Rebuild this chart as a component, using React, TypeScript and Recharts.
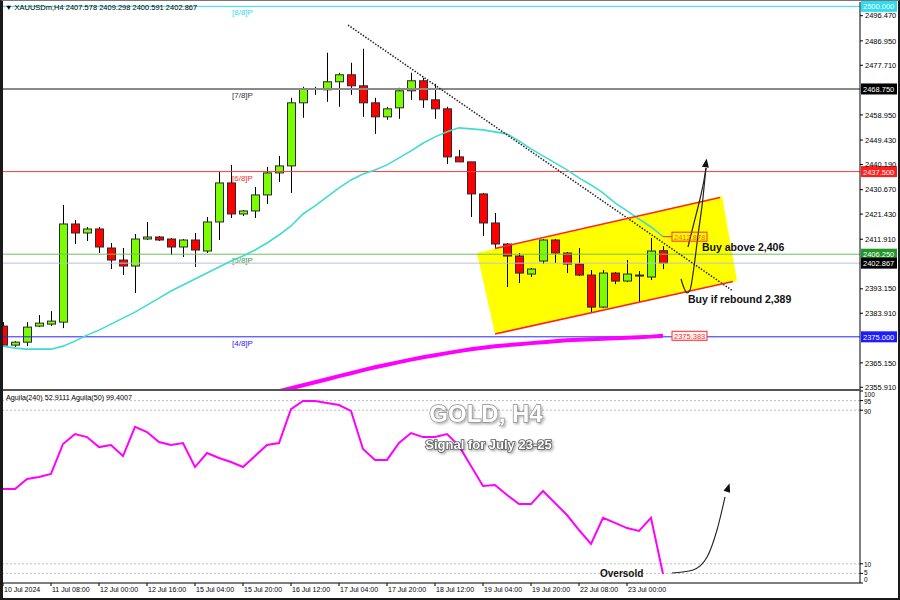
import React from "react";
import {
  Area,
  Bar,
  ComposedChart,
  Line,
  ReferenceDot,
  ReferenceLine,
  XAxis,
  YAxis,
} from "recharts";

// XAUUSDm H4, 10 Jul 2024 16:00 .. 23 Jul 2024 (56 bars)

const OPENS = [
  2379.05, 2371.85, 2372.98, 2379.05, 2379.8, 2380.56, 2417.68, 2414.27, 2415.79, 2408.59,
  2404.04, 2401.77, 2412.0, 2412.76, 2412.0, 2408.97, 2411.62, 2407.45, 2418.44, 2433.21,
  2421.47, 2422.61, 2428.67, 2437.0, 2439.65, 2463.51, 2468.7, 2468.44, 2471.47, 2474.12,
  2469.95, 2463.51, 2458.21, 2461.62, 2468.06, 2471.85, 2464.65, 2461.24, 2443.06, 2441.17,
  2429.05, 2418.06, 2410.11, 2405.56, 2398.74, 2403.67, 2411.62, 2406.7, 2402.53, 2398.36,
  2386.24, 2399.12, 2396.09, 2398.36, 2397.61, 2407.578,
];
const HIGHS = [
  2380.56, 2373.36, 2380.56, 2383.21, 2384.73, 2424.88, 2419.2, 2416.55, 2416.55, 2410.48,
  2408.59, 2413.89, 2418.44, 2413.14, 2412.38, 2412.0, 2414.27, 2420.33, 2437.38, 2440.03,
  2422.98, 2431.7, 2439.27, 2443.44, 2465.41, 2469.58, 2469.58, 2482.45, 2474.88, 2478.67,
  2483.97, 2465.41, 2462.0, 2469.2, 2474.88, 2472.98, 2470.71, 2462.0, 2445.71, 2441.17,
  2429.42, 2421.85, 2410.48, 2406.7, 2401.01, 2412.0, 2412.0, 2407.08, 2408.59, 2400.26,
  2400.26, 2399.5, 2404.04, 2399.88, 2412.38, 2409.298,
];
const LOWS = [
  2371.47, 2371.09, 2371.47, 2378.67, 2379.05, 2378.29, 2410.11, 2411.24, 2406.7, 2400.64,
  2398.36, 2391.55, 2411.62, 2411.24, 2405.94, 2405.18, 2401.39, 2406.7, 2411.62, 2419.95,
  2420.71, 2419.95, 2425.26, 2433.59, 2429.42, 2457.83, 2466.55, 2463.89, 2462.0, 2466.55,
  2458.21, 2451.77, 2457.08, 2457.45, 2464.65, 2461.62, 2457.45, 2440.41, 2441.17, 2420.33,
  2413.14, 2408.59, 2393.82, 2395.33, 2397.61, 2402.53, 2402.91, 2399.12, 2397.98, 2384.35,
  2385.86, 2394.95, 2395.71, 2388.14, 2396.47, 2400.591,
];
const CLOSES = [
  2371.85, 2372.98, 2378.67, 2380.18, 2380.94, 2417.68, 2414.27, 2415.79, 2408.97, 2404.04,
  2401.77, 2412.0, 2412.76, 2411.62, 2408.97, 2411.62, 2407.83, 2418.44, 2433.21, 2421.47,
  2422.61, 2428.67, 2437.0, 2439.65, 2463.51, 2468.82, 2468.7, 2471.47, 2474.12, 2469.95,
  2463.51, 2458.21, 2461.24, 2468.06, 2471.85, 2464.65, 2461.24, 2443.06, 2441.17, 2429.05,
  2418.06, 2410.11, 2405.56, 2399.12, 2400.64, 2411.62, 2406.7, 2402.53, 2398.36, 2386.24,
  2399.12, 2396.09, 2398.74, 2397.98, 2407.45, 2402.867,
];

// cyan moving average
const MA_FAST = [
  2371.47, 2370.71, 2370.33, 2370.33, 2370.33, 2371.47, 2373.36, 2375.64, 2377.53, 2379.8,
  2382.08, 2384.35, 2387.0, 2389.65, 2392.3, 2394.58, 2396.85, 2399.12, 2401.39, 2403.67,
  2405.56, 2407.83, 2410.48, 2413.51, 2416.92, 2421.47, 2424.5, 2427.91, 2431.32, 2434.35,
  2436.62, 2438.14, 2440.03, 2442.68, 2445.33, 2448.2, 2450.64, 2452.53, 2454.05, 2453.67,
  2453.29, 2452.53, 2451.77, 2449.12, 2446.09, 2443.44, 2440.79, 2438.14, 2435.11, 2432.45,
  2429.42, 2425.64, 2422.61, 2419.58, 2416.55, 2412.878,
];
// magenta moving average, starts at bar 22 (below the visible range there)
const MA_SLOW_START = 22;
const MA_SLOW = [
  2353.29, 2354.42, 2355.56, 2356.7, 2357.83, 2358.97, 2360.11, 2361.24, 2362.38, 2363.51,
  2364.46, 2365.41, 2366.36, 2367.3, 2368.06, 2368.82, 2369.58, 2370.33, 2370.9, 2371.47,
  2371.85, 2372.23, 2372.61, 2372.98, 2373.36, 2373.74, 2373.93, 2374.12, 2374.31, 2374.5,
  2374.69, 2374.88, 2375.07, 2375.383,
];

// Aguila oscillator
const AGUILA = [
  49.0, 49.0, 54.2, 55.2, 56.8, 72.4, 77.6, 76.0, 70.8, 71.9,
  66.1, 81.3, 78.6, 73.4, 71.9, 72.9, 60.4, 67.7, 65.1, 63.0,
  60.4, 66.1, 71.9, 72.9, 90.6, 94.8, 94.8, 93.8, 92.7, 89.6,
  69.8, 64.1, 64.1, 72.9, 78.1, 76.0, 76.0, 77.6, 71.4, 60.9,
  50.5, 51.0, 45.8, 41.1, 41.1, 47.9, 41.7, 35.4, 27.6, 20.3,
  33.9, 31.3, 28.6, 27.1, 33.9, 4.7,
];

const X_TICKS = [0, 4, 8, 12, 16, 20, 24, 28, 32, 36, 40, 44, 48, 52];
const X_LABELS = [
  "10 Jul 2024", "11 Jul 08:00", "12 Jul 00:00", "12 Jul 16:00", "15 Jul 04:00",
  "15 Jul 20:00", "16 Jul 12:00", "17 Jul 04:00", "17 Jul 20:00", "18 Jul 12:00",
  "19 Jul 04:00", "19 Jul 20:00", "22 Jul 08:00", "23 Jul 00:00",
];
const PRICE_TICKS = [
  2496.47, 2486.95, 2477.71, 2458.95, 2449.43, 2440.19, 2430.67, 2421.43, 2411.91,
  2393.15, 2383.91, 2365.15, 2355.91,
];
const OSC_TICKS = [0, 5, 10, 90, 95, 100];
const OSC_LEVELS = [5, 10, 90, 95];

// Murrey math levels
const MURREY_PRICES = [2500, 2468.75, 2437.5, 2406.25, 2375];
const MURREY_NAMES = ["[8/8]P", "[7/8]P", "[6/8]P", "[5/8]P", "[4/8]P"];
const LAST_PRICE = 2402.867;

// hand-drawn objects (bar index / price)
const CHANNEL_X = [39.5, 41, 59.92, 61.17];
const CHANNEL_LOW = [2406.71, 2376.07, 2394.87, 2396.12];
const CHANNEL_HIGH = [2406.71, 2408.3, 2428.27, 2396.12];
const CH_UPPER = [{ x: 41, y: 2408.41 }, { x: 59.75, y: 2427.7 }];
const CH_LOWER = [{ x: 41, y: 2376.07 }, { x: 60.83, y: 2395.93 }];
const TREND = [{ x: 28.75, y: 2492.95 }, { x: 60.83, y: 2392.33 }];
const ARROW_A_X = [57.08, 57.58, 58.08, 58.42, 58.58];
const ARROW_A_P = [2408.98, 2418.06, 2427.13, 2434.32, 2438.86];
const ARROW_B_X = [56.5, 56.75, 57.0, 57.25, 57.58, 57.92, 58.33, 58.58];
const ARROW_B_P = [2396.87, 2393.47, 2391.58, 2392.71, 2401.41, 2413.52, 2427.51, 2438.86];
const ARROW_TIP = { x: 58.58, y: 2440.6 };
const OSC_ARROW_X = [55.75, 57.5, 58.67, 59.5, 60.17];
const OSC_ARROW_V = [5.2, 6.8, 13.5, 27.6, 44.8];
const OSC_ARROW_TIP = { x: 60.42, y: 49.5 };

// ------------------------------------------------------------

const FONT = '"Liberation Sans", Arial, sans-serif';
const X_MIN = -1 / 12;
const X_MAX = 857 / 12;
const P_MIN = 2354.88;
const P_MAX = 2501.65;
const GREEN = "#7cfc00";
const RED = "#ff0000";
const MURREY_COLORS = ["#2fdcf2", "#8a8a8a", "#ff3a3a", "#72c062", "#2626ff"];
const MURREY_TEXT = ["#2fdcf2", "#333333", "#ff3030", "#3a9a3a", "#2424ff"];
const MURREY_BOX = ["#2fdcf2", "#000000", "#ff1e1e", "#22962a", "#1c1cff"];

const bars = OPENS.map((o, i) => ({
  x: i,
  o,
  h: HIGHS[i],
  l: LOWS[i],
  c: CLOSES[i],
  maFast: MA_FAST[i],
  maSlow: i >= MA_SLOW_START ? MA_SLOW[i - MA_SLOW_START] : undefined,
}));
const oscRows = AGUILA.map((v, i) => ({ x: i, v }));
const channelRows = CHANNEL_X.map((x, i) => ({ x, band: [CHANNEL_LOW[i], CHANNEL_HIGH[i]] }));
const arrowA = ARROW_A_X.map((x, i) => ({ x, p: ARROW_A_P[i] }));
const arrowB = ARROW_B_X.map((x, i) => ({ x, p: ARROW_B_P[i] }));
const oscArrow = OSC_ARROW_X.map((x, i) => ({ x, v: OSC_ARROW_V[i] }));

function Candle(props: any) {
  const { x, y, width, height, payload } = props;
  if (!payload || height == null || isNaN(y)) return null;
  const { o, h, l, c } = payload;
  const cx = Math.round(x + width / 2) + 0.5;
  const k = height / (h - l);
  const yO = y + (h - o) * k;
  const yC = y + (h - c) * k;
  const top = Math.min(yO, yC);
  const bodyH = Math.abs(yC - yO);
  const wick = <line x1={cx} x2={cx} y1={y} y2={y + height} stroke="#000" strokeWidth={1} />;
  if (bodyH < 0.8) {
    return (
      <g>
        {wick}
        <line x1={cx - 4} x2={cx + 4} y1={top} y2={top} stroke="#000" strokeWidth={1} />
      </g>
    );
  }
  return (
    <g>
      {wick}
      <rect
        x={cx - 4}
        y={top}
        width={8}
        height={bodyH}
        fill={c > o ? GREEN : RED}
        stroke="#2b2b2b"
        strokeWidth={1}
      />
    </g>
  );
}

// price tag on the right axis + optional [n/8]P text on the line
function LevelTag(props: any) {
  const { viewBox, text, box, name, nameColor } = props;
  if (!viewBox) return null;
  const right = viewBox.x + viewBox.width;
  const y = viewBox.y;
  return (
    <g fontFamily={FONT}>
      {name && (
        <text x={viewBox.x + 230} y={y + 9} fontSize={8} fill={nameColor}>
          {name}
        </text>
      )}
      <rect x={right + 1} y={y - 5.5} width={36} height={11} fill={box} />
      <text x={right + 3} y={y + 3} fontSize={7.5} fill="#fff">
        {text}
      </text>
    </g>
  );
}

function EndTag(props: any) {
  const { cx, cy, text, color, fill } = props;
  if (cx == null) return null;
  return (
    <g fontFamily={FONT}>
      <rect x={cx} y={cy - 4.5} width={35} height={9} fill={fill} stroke="#ff2a2a" strokeWidth={1} />
      <text x={cx + 2} y={cy + 3} fontSize={7.5} fill={color}>
        {text}
      </text>
    </g>
  );
}

function ArrowHead(props: any) {
  const { cx, cy, angle } = props;
  if (cx == null) return null;
  return (
    <polygon
      points={`${cx},${cy - 5} ${cx - 3.5},${cy + 4} ${cx + 3.5},${cy + 4}`}
      fill="#111"
      transform={`rotate(${angle} ${cx} ${cy})`}
    />
  );
}

function OscTick(props: any) {
  const { x, y, payload } = props;
  const nudge: Record<number, number> = { 100: 3.5, 95: 1, 90: 1.5, 10: 1, 5: -0.5, 0: -4 };
  return (
    <text x={x} y={y + 2.5 + (nudge[payload.value] ?? 0)} fontSize={6.5} fill="#000" fontFamily={FONT}>
      {payload.value}
    </text>
  );
}

function TimeTick(props: any) {
  const { x, y, payload } = props;
  const idx = X_TICKS.indexOf(payload.value);
  return (
    <text x={x + 1} y={y + 6} fontSize={7} fill="#000" fontFamily={FONT}>
      {X_LABELS[idx]}
    </text>
  );
}

export default function App() {
  return (
    <div
      style={{
        position: "absolute",
        left: 0,
        top: 0,
        width: 900,
        height: 600,
        background: "#fff",
        overflow: "hidden",
        fontFamily: FONT,
      }}
    >
      {/* price panel */}
      <div style={{ position: "absolute", left: 0, top: 0 }}>
        <ComposedChart width={900} height={392} data={bars} margin={{ top: 2, right: 0, bottom: 2, left: 2 }}>
          <XAxis type="number" dataKey="x" domain={[X_MIN, X_MAX]} allowDataOverflow hide />
          <YAxis
            orientation="right"
            type="number"
            domain={[P_MIN, P_MAX]}
            allowDataOverflow
            ticks={PRICE_TICKS}
            interval={0}
            width={40}
            tickSize={3}
            tickMargin={2}
            axisLine={{ stroke: "#000" }}
            tickLine={{ stroke: "#000" }}
            tick={{ fontSize: 7.5, fill: "#000", fontFamily: FONT }}
            tickFormatter={(v: number) => v.toFixed(3)}
          />
          <Area
            data={channelRows}
            dataKey="band"
            type="linear"
            fill="#ffff00"
            fillOpacity={1}
            stroke="none"
            isAnimationActive={false}
          />
          {MURREY_PRICES.map((p, i) => (
            <ReferenceLine
              key={p}
              y={p}
              stroke={MURREY_COLORS[i]}
              strokeWidth={i === 1 ? 2 : 1}
              label={
                <LevelTag
                  text={p.toFixed(3)}
                  box={MURREY_BOX[i]}
                  name={MURREY_NAMES[i]}
                  nameColor={MURREY_TEXT[i]}
                />
              }
            />
          ))}
          <ReferenceLine
            y={LAST_PRICE}
            stroke="#b9c3d3"
            strokeWidth={1}
            label={<LevelTag text={LAST_PRICE.toFixed(3)} box="#000" />}
          />
          <Bar
            dataKey={(d: any) => [d.l, d.h]}
            barSize={8}
            shape={(p: any) => <Candle {...p} />}
            isAnimationActive={false}
          />
          <Line
            dataKey="maSlow"
            type="linear"
            stroke="#ff00ff"
            strokeWidth={4}
            dot={false}
            isAnimationActive={false}
          />
          <Line
            dataKey="maFast"
            type="linear"
            stroke="#40dcd0"
            strokeWidth={1.6}
            dot={false}
            isAnimationActive={false}
          />
          <ReferenceLine segment={TREND} stroke="#222" strokeWidth={1.5} strokeDasharray="1.5 1.5" />
          <ReferenceLine segment={CH_UPPER} stroke="#ff2424" strokeWidth={1.6} />
          <ReferenceLine segment={CH_LOWER} stroke="#ff2424" strokeWidth={1.6} />
          <ReferenceLine
            segment={[{ x: 55, y: MA_FAST[55] }, { x: 55.75, y: MA_FAST[55] }]}
            stroke="#ff2424"
          />
          <ReferenceDot
            x={55.75}
            y={MA_FAST[55]}
            shape={(p: any) => <EndTag {...p} text="2412.878" color="#ff5a00" fill="none" />}
          />
          <ReferenceDot
            x={55.75}
            y={MA_SLOW[MA_SLOW.length - 1]}
            shape={(p: any) => <EndTag {...p} text="2375.383" color="#ff3030" fill="#fff4f4" />}
          />
          <Line
            data={arrowA}
            dataKey="p"
            type="monotone"
            stroke="#222"
            strokeWidth={1.2}
            dot={false}
            isAnimationActive={false}
          />
          <Line
            data={arrowB}
            dataKey="p"
            type="monotone"
            stroke="#222"
            strokeWidth={1.2}
            dot={false}
            isAnimationActive={false}
          />
          <ReferenceDot x={ARROW_TIP.x} y={ARROW_TIP.y} shape={(p: any) => <ArrowHead {...p} angle={8} />} />
        </ComposedChart>
      </div>

      {/* oscillator panel */}
      <div style={{ position: "absolute", left: 0, top: 390 }}>
        <ComposedChart width={900} height={209} data={oscRows} margin={{ top: 1, right: 0, bottom: 0, left: 2 }}>
          <XAxis
            type="number"
            dataKey="x"
            domain={[X_MIN, X_MAX]}
            allowDataOverflow
            ticks={X_TICKS}
            interval={0}
            height={16}
            tickSize={3}
            tickMargin={0}
            axisLine={{ stroke: "#000" }}
            tickLine={{ stroke: "#000" }}
            tick={(p: any) => <TimeTick {...p} />}
          />
          <YAxis
            orientation="right"
            type="number"
            domain={[0, 100]}
            allowDataOverflow
            ticks={OSC_TICKS}
            interval={0}
            width={40}
            tickSize={3}
            tickMargin={1}
            axisLine={{ stroke: "#000" }}
            tickLine={{ stroke: "#000" }}
            tick={(p: any) => <OscTick {...p} />}
          />
          {OSC_LEVELS.map((v) => (
            <ReferenceLine key={v} y={v} stroke="#bdbdbd" strokeDasharray="2 2" />
          ))}
          <Line dataKey="v" type="linear" stroke="#ff00ff" strokeWidth={2} dot={false} isAnimationActive={false} />
          <Line
            data={oscArrow}
            dataKey="v"
            type="monotone"
            stroke="#222"
            strokeWidth={1.1}
            dot={false}
            isAnimationActive={false}
          />
          <ReferenceDot
            x={OSC_ARROW_TIP.x}
            y={OSC_ARROW_TIP.y}
            shape={(p: any) => <ArrowHead {...p} angle={18} />}
          />
        </ComposedChart>
      </div>

      {/* texts */}
      <svg
        width={900}
        height={600}
        style={{ position: "absolute", left: 0, top: 0, pointerEvents: "none" }}
        fontFamily={FONT}
      >
        <defs>
          <filter id="soft" x="-10%" y="-30%" width="120%" height="160%">
            <feDropShadow dx="1.5" dy="1.5" stdDeviation="1" floodColor="#000" floodOpacity="0.3" />
          </filter>
        </defs>
        <text x={5} y={10} fontSize={7.5} fill="#000">
          ▼ XAUUSDm,H4  2407.578 2409.298 2400.591 2402.867
        </text>
        <text x={6} y={400} fontSize={7.2} fill="#000">
          Aguila(240) 52.9111  Aguila(50) 99.4007
        </text>
        <text
          x={486}
          y={421.5}
          fontSize={24}
          fontWeight="bold"
          fill="#fff"
          stroke="#8c8c8c"
          strokeWidth={1.4}
          paintOrder="stroke"
          textAnchor="middle"
          filter="url(#soft)"
        >
          GOLD, H4
        </text>
        <text
          x={488.5}
          y={448.5}
          fontSize={13}
          fontWeight="bold"
          fill="#fff"
          stroke="#555"
          strokeWidth={1.6}
          paintOrder="stroke"
          textAnchor="middle"
          filter="url(#soft)"
        >
          Signal for July 23-25
        </text>
        <text x={702} y={250.5} fontSize={10.5} fontWeight="bold" fill="#111">
          Buy above 2,406
        </text>
        <text x={688} y={303} fontSize={10.5} fontWeight="bold" fill="#111">
          Buy if rebound 2,389
        </text>
        <text x={600} y={576.5} fontSize={10} fontWeight="bold" fill="#111">
          Oversold
        </text>
      </svg>

      {/* window frame and panel separator */}
      <div style={{ position: "absolute", left: 0, top: 388.5, width: 861, height: 2.5, background: "#555" }} />
      <div
        style={{
          position: "absolute",
          left: 0,
          top: 0,
          width: 900,
          height: 600,
          boxSizing: "border-box",
          borderLeft: "3px solid #1a1a1a",
          borderRight: "2px solid #1a1a1a",
          borderBottom: "2px solid #1a1a1a",
          borderTop: "1px solid #777",
        }}
      />
    </div>
  );
}
